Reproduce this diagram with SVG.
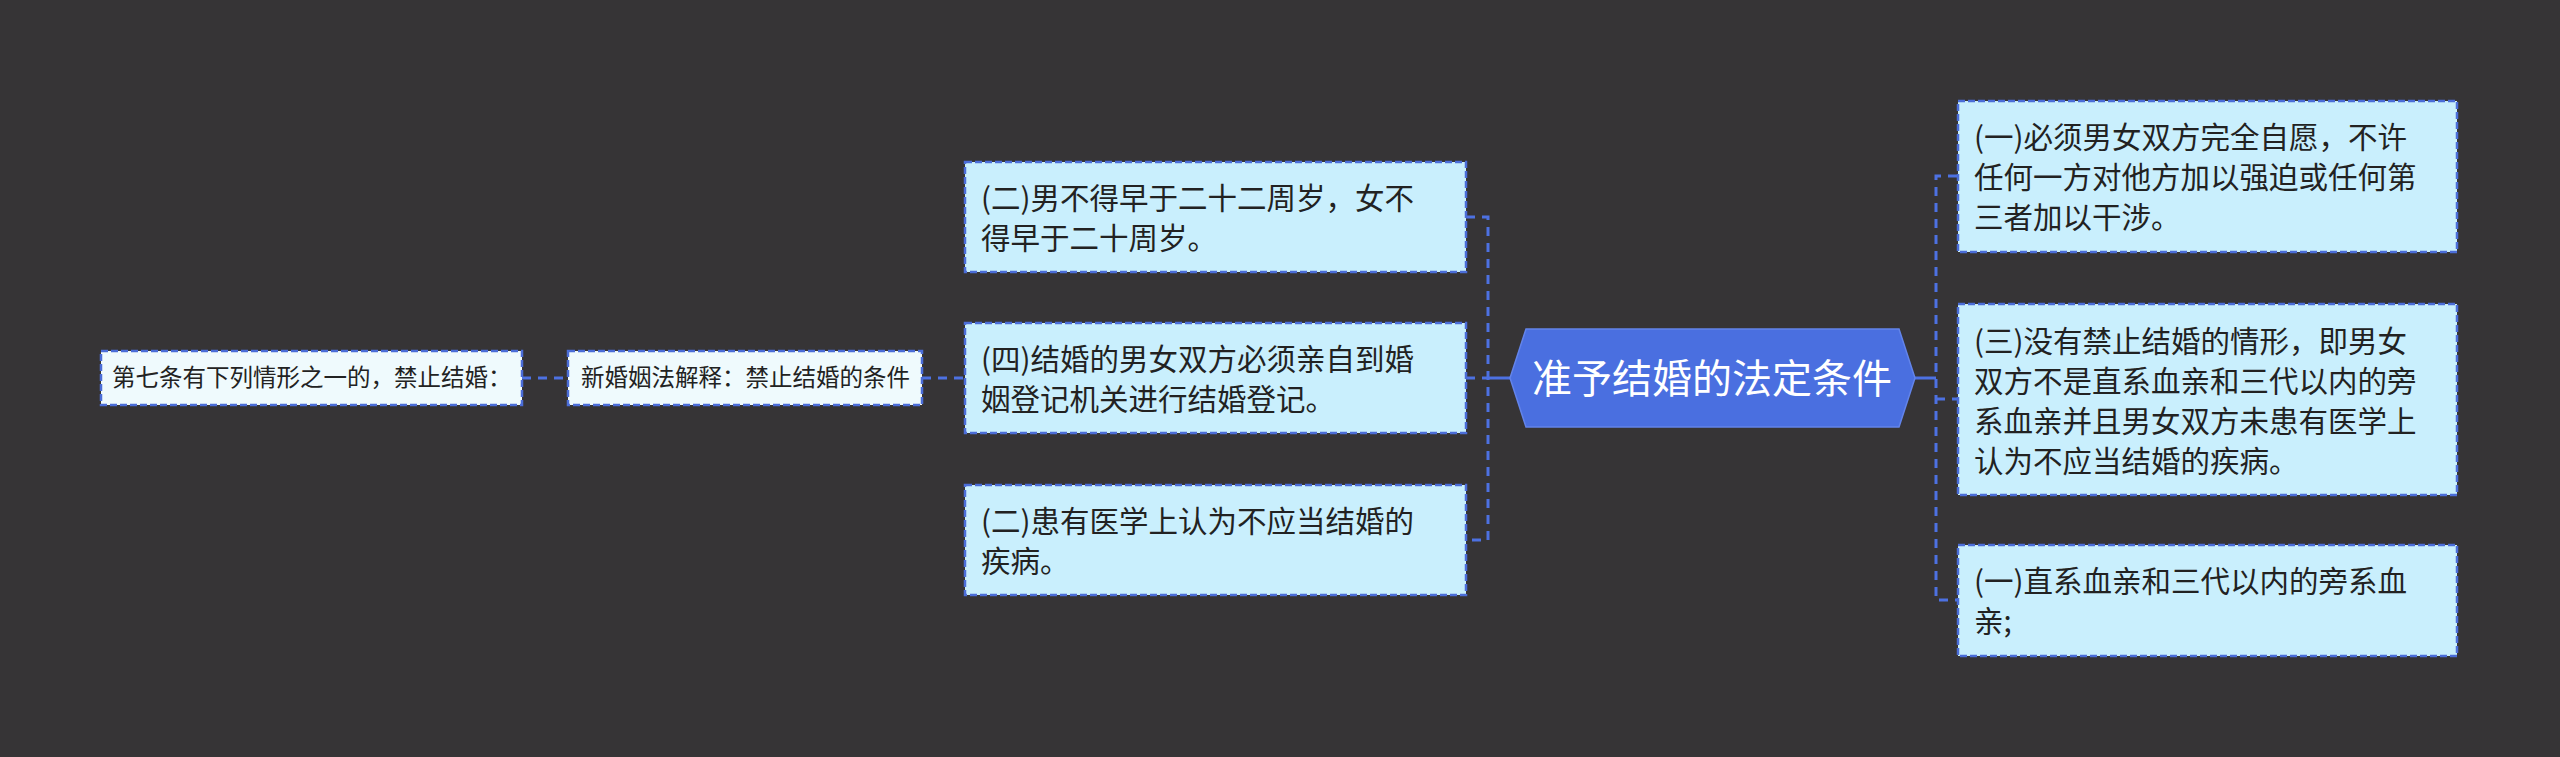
<svg xmlns="http://www.w3.org/2000/svg" width="2560" height="757" viewBox="0 0 2560 757">
<style>
text{font-family:"Noto Sans CJK SC","Noto Sans",sans-serif;fill:#222;}
.box{fill:#c9effd;stroke:#4b6dd8;stroke-width:2.5;stroke-dasharray:7 3;}
.boxl{fill:#effafd;stroke:#4b6dd8;stroke-width:2.5;stroke-dasharray:7 3;}
.t{font-size:29.5px;}
.ts{font-size:23.5px;}
.c{fill:none;stroke:#4d71e2;stroke-width:3;stroke-dasharray:9 7;}
.s{fill:none;stroke:#4d71e2;stroke-width:3;}
</style>
<rect width="2560" height="757" fill="#363436"/>
<g id="connectors">
<path class="c" d="M522 378H568"/>
<path class="c" d="M922 378H965"/>
<path class="c" d="M1466 217H1488V540H1466"/>
<path class="c" d="M1466 378H1488"/>
<path class="s" d="M1488 378H1510"/>
<path class="s" d="M1915 378H1936"/>
<path class="c" d="M1957 176H1936V600H1957"/>
<path class="c" d="M1936 399H1957"/>
</g>
<g id="center">
<polygon points="1510,378 1526,329 1899,329 1915,378 1899,427 1526,427" fill="#4a6fe0" stroke="#6384ea" stroke-width="1.5"/>
<text x="1712" y="393" text-anchor="middle" style="font-size:40px;fill:#fff">准予结婚的法定条件</text>
</g>
<g id="r1">
<rect class="box" x="1958" y="101" width="499" height="151"/>
<text class="t" x="1974" y="148">(一)必须男女双方完全自愿，不许</text>
<text class="t" x="1974" y="188">任何一方对他方加以强迫或任何第</text>
<text class="t" x="1974" y="228">三者加以干涉。</text>
</g>
<g id="r2">
<rect class="box" x="1958" y="304" width="499" height="191"/>
<text class="t" x="1974" y="352">(三)没有禁止结婚的情形，即男女</text>
<text class="t" x="1974" y="392">双方不是直系血亲和三代以内的旁</text>
<text class="t" x="1974" y="432">系血亲并且男女双方未患有医学上</text>
<text class="t" x="1974" y="472">认为不应当结婚的疾病。</text>
</g>
<g id="r3">
<rect class="box" x="1958" y="545" width="499" height="111"/>
<text class="t" x="1974" y="592">(一)直系血亲和三代以内的旁系血</text>
<text class="t" x="1974" y="632">亲;</text>
</g>
<g id="m1">
<rect class="box" x="965" y="162" width="501" height="110"/>
<text class="t" x="981" y="209">(二)男不得早于二十二周岁，女不</text>
<text class="t" x="981" y="249">得早于二十周岁。</text>
</g>
<g id="m2">
<rect class="box" x="965" y="323" width="501" height="110"/>
<text class="t" x="981" y="370">(四)结婚的男女双方必须亲自到婚</text>
<text class="t" x="981" y="410">姻登记机关进行结婚登记。</text>
</g>
<g id="m3">
<rect class="box" x="965" y="485" width="501" height="110"/>
<text class="t" x="981" y="532">(二)患有医学上认为不应当结婚的</text>
<text class="t" x="981" y="572">疾病。</text>
</g>
<g id="l2">
<rect class="boxl" x="568" y="351" width="354" height="54"/>
<text class="ts" x="581" y="386">新婚姻法解释：禁止结婚的条件</text>
</g>
<g id="l1">
<rect class="boxl" x="101" y="351" width="421" height="54"/>
<text class="ts" x="112" y="386">第七条有下列情形之一的，禁止结婚：</text>
</g>
</svg>
